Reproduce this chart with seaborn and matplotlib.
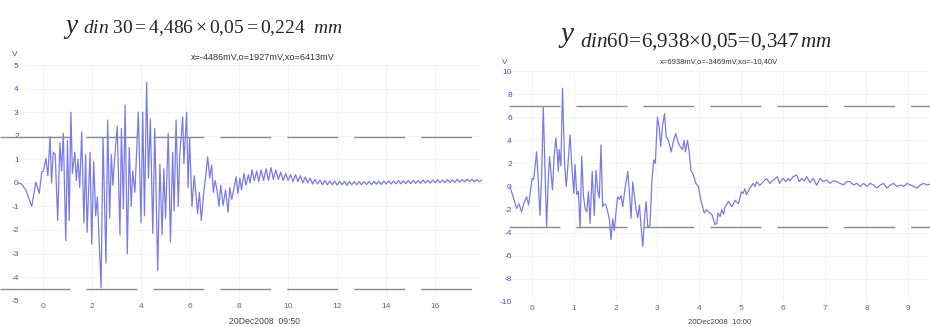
import matplotlib
matplotlib.use("Agg")
import matplotlib.pyplot as plt
import seaborn as sns

# ------------------------------------------------------------
# Data
# ------------------------------------------------------------

# left trace (time in s, signal in V)
left_t = [
    -1.02, -0.88, -0.70, -0.46, -0.29, -0.15, -0.05, 0.02, 0.12, 0.20,
    0.29, 0.35, 0.42, 0.50, 0.60, 0.69, 0.76, 0.83, 0.93, 1.00,
    1.07, 1.14, 1.20, 1.30, 1.36, 1.43, 1.50, 1.58, 1.67, 1.74,
    1.80, 1.92, 1.99, 2.07, 2.15, 2.22, 2.37, 2.45, 2.57, 2.64,
    2.72, 2.79, 2.85, 2.92, 3.03, 3.14, 3.20, 3.28, 3.35, 3.44,
    3.52, 3.60, 3.66, 3.75, 3.89, 4.00, 4.07, 4.14, 4.23, 4.30,
    4.38, 4.48, 4.56, 4.68, 4.77, 4.86, 4.93, 5.00, 5.11, 5.20,
    5.29, 5.35, 5.43, 5.52, 5.58, 5.70, 5.75, 5.86, 5.92, 5.98,
    6.08, 6.17, 6.31, 6.38, 6.46, 6.55, 6.64, 6.72, 6.80, 6.88,
    6.95, 7.02, 7.10, 7.18, 7.25, 7.35, 7.45, 7.55, 7.62, 7.70,
    7.78, 7.88, 7.95, 8.03, 8.10, 8.20, 8.28, 8.38, 8.45, 8.53,
    8.62, 8.72, 8.80, 8.90, 9.00, 9.10, 9.20, 9.30, 9.40, 9.50,
    9.60, 9.70, 9.80, 9.90, 10.0, 10.1, 10.2, 10.3, 10.4, 10.5,
    10.6, 10.7, 10.8, 10.9, 11.0, 11.1, 11.2, 11.3, 11.4, 11.5,
    11.6, 11.7, 11.8, 11.9, 12.0, 12.1, 12.2, 12.3, 12.4, 12.5,
    12.6, 12.7, 12.8, 12.9, 13.0, 13.1, 13.2, 13.3, 13.4, 13.5,
    13.6, 13.7, 13.8, 13.9, 14.0, 14.1, 14.2, 14.3, 14.4, 14.5,
    14.6, 14.7, 14.8, 14.9, 15.0, 15.1, 15.2, 15.3, 15.4, 15.5,
    15.6, 15.7, 15.8, 15.9, 16.0, 16.1, 16.2, 16.3, 16.4, 16.5,
    16.6, 16.7, 16.8, 16.9, 17.0, 17.1, 17.2, 17.3, 17.4, 17.5,
    17.6, 17.7, 17.8, 17.9,
]
left_v = [
    0.00, -0.05, -0.30, -1.00, 0.03, -0.45, 0.46, 0.50, 1.04, 0.30,
    1.95, 0.00, 1.30, 1.20, -1.60, 1.70, 0.50, 2.10, -2.45, 1.80,
    -1.60, 3.00, 0.40, 1.30, 0.10, 1.00, -0.20, 2.16, -1.70, 1.20,
    -2.10, 1.30, -2.60, 0.90, -1.40, -0.60, -4.45, 1.90, -3.40, 2.66,
    -1.50, 1.20, -0.10, 1.00, 2.40, -2.20, 2.30, -1.10, 3.30, -3.00,
    1.50, -1.00, 0.50, -0.40, 3.00, -1.70, 3.00, -1.40, 4.26, 0.20,
    2.70, -2.15, 2.30, -3.72, 0.80, -2.20, 0.60, -1.50, 2.10, -2.50,
    1.30, -1.20, 2.66, -1.00, 1.20, 2.80, 0.80, 3.00, -0.20, 1.90,
    -1.00, 0.30, -1.30, -0.40, -1.60, -0.50, 0.30, 1.10, 0.20, 0.75,
    -0.40, 0.10, -0.30, -1.00, -0.10, -0.95, -0.30, -1.25, -0.20, -0.70,
    -0.30, 0.26, -0.45, 0.20, -0.30, 0.40, -0.10, 0.35, 0.00, 0.55,
    0.10, 0.50, 0.05, 0.55, 0.10, 0.60, 0.10, 0.65, 0.15, 0.55,
    0.15, 0.45, 0.10, 0.40, 0.10, 0.35, 0.05, 0.35, 0.05, 0.30,
    0.00, 0.25, 0.00, 0.20, -0.05, 0.15, -0.05, 0.12, -0.08, 0.10,
    -0.08, 0.08, -0.08, 0.08, -0.10, 0.07, -0.08, 0.06, -0.10, 0.05,
    -0.08, 0.06, -0.08, 0.05, -0.08, 0.06, -0.07, 0.06, -0.08, 0.07,
    -0.06, 0.07, -0.07, 0.08, -0.05, 0.09, -0.05, 0.08, -0.04, 0.10,
    -0.04, 0.09, -0.03, 0.10, -0.03, 0.11, -0.02, 0.10, -0.02, 0.12,
    0.00, 0.11, -0.01, 0.12, 0.00, 0.13, 0.01, 0.12, 0.01, 0.14,
    0.02, 0.13, 0.02, 0.15, 0.03, 0.14, 0.04, 0.16, 0.05, 0.15,
    0.04, 0.14, 0.05, 0.12,
]

# right trace
right_t = [
    -0.53, -0.45, -0.37, -0.31, -0.25, -0.19, -0.13, -0.08, 0.00, 0.04,
    0.11, 0.15, 0.19, 0.23, 0.27, 0.31, 0.35, 0.39, 0.42, 0.46,
    0.49, 0.53, 0.57, 0.61, 0.63, 0.65, 0.69, 0.73, 0.78, 0.82,
    0.86, 0.91, 0.95, 1.00, 1.03, 1.07, 1.11, 1.15, 1.19, 1.23,
    1.27, 1.31, 1.35, 1.39, 1.44, 1.49, 1.53, 1.57, 1.61, 1.65,
    1.69, 1.73, 1.77, 1.81, 1.85, 1.89, 1.93, 1.97, 2.01, 2.05,
    2.09, 2.13, 2.17, 2.22, 2.29, 2.33, 2.37, 2.41, 2.45, 2.49,
    2.53, 2.57, 2.61, 2.65, 2.69, 2.73, 2.77, 2.82, 2.87, 2.91,
    2.95, 3.00, 3.04, 3.08, 3.12, 3.17, 3.21, 3.25, 3.29, 3.33,
    3.38, 3.44, 3.48, 3.52, 3.56, 3.60, 3.64, 3.67, 3.72, 3.76,
    3.80, 3.86, 3.92, 3.98, 4.04, 4.12, 4.18, 4.22, 4.30, 4.38,
    4.42, 4.45, 4.50, 4.54, 4.58, 4.62, 4.70, 4.78, 4.86, 4.94,
    5.01, 5.05, 5.09, 5.13, 5.21, 5.29, 5.33, 5.37, 5.45, 5.53,
    5.61, 5.69, 5.77, 5.87, 5.92, 5.97, 6.01, 6.07, 6.13, 6.17,
    6.25, 6.33, 6.39, 6.45, 6.51, 6.57, 6.65, 6.73, 6.81, 6.89,
    6.97, 7.05, 7.13, 7.21, 7.29, 7.37, 7.45, 7.53, 7.61, 7.69,
    7.77, 7.85, 7.93, 8.01, 8.09, 8.17, 8.25, 8.33, 8.41, 8.49,
    8.57, 8.65, 8.73, 8.81, 8.89, 8.97, 9.05, 9.13, 9.21, 9.29,
    9.37, 9.45, 9.52,
]
right_v = [
    0.00, -0.90, -1.90, -1.50, -2.20, -1.40, -0.90, -1.60, 0.70, 0.60,
    3.00, 0.50, -2.50, 0.80, 6.90, 1.50, -3.50, 0.60, 2.60, 1.00,
    -0.30, 2.60, 4.20, 2.60, 1.30, 3.20, 1.80, 8.50, 1.90, 0.00,
    1.90, 4.46, 1.90, -0.60, 1.90, -0.70, -0.40, -3.60, 2.60, -0.80,
    -1.90, -2.20, -0.45, -3.20, 1.30, -2.50, 1.40, -0.30, -1.00, 3.60,
    -1.75, -1.50, -1.60, -2.20, -2.80, -4.60, -2.80, -3.80, -2.20, -0.90,
    -1.10, -0.80, -1.75, -0.30, 1.30, -0.50, -2.75, 0.40, -0.80, -2.00,
    -2.70, -1.60, -3.50, -5.20, -2.80, -1.30, -3.50, -3.40, 0.56, 2.30,
    2.00, 6.00, 5.20, 3.45, 5.20, 6.30, 4.30, 4.10, 3.60, 3.00,
    3.90, 4.60, 4.00, 3.60, 3.40, 3.20, 4.00, 3.00, 4.00, 3.00,
    1.40, 1.00, 0.27, 0.00, -1.20, -2.30, -2.00, -2.20, -2.40, -3.30,
    -3.20, -2.30, -2.60, -2.00, -2.40, -1.75, -1.30, -1.75, -1.20, -1.50,
    -0.45, -0.60, -0.20, -0.70, -0.15, 0.27, 0.00, 0.40, 0.10, 0.40,
    0.70, 0.27, 0.56, 0.85, 0.27, 0.56, 0.70, 0.42, 0.70, 0.50,
    0.85, 1.00, 0.42, 0.70, 0.48, 0.85, 0.35, 0.70, 0.10, 0.70,
    0.42, 0.56, 0.27, 0.50, 0.42, 0.27, 0.13, 0.42, 0.42, 0.13,
    0.27, 0.00, 0.27, 0.00, 0.27, 0.13, -0.14, 0.13, 0.27, -0.14,
    0.13, 0.27, 0.00, 0.13, 0.00, 0.27, 0.13, 0.00, -0.14, 0.13,
    0.27, 0.13, 0.20,
]

# reference levels (x and o readouts)
left_levels = [1.927, -4.486]
right_levels = [6.938, -3.469]

left_xticks = [0, 2, 4, 6, 8, 10, 12, 14, 16]
left_yticks = [-5, -4, -3, -2, -1, 0, 1, 2, 3, 4, 5]
right_xticks = [0, 1, 2, 3, 4, 5, 6, 7, 8, 9]
right_yticks = [-10, -8, -6, -4, -2, 0, 2, 4, 6, 8, 10]

left_stats = "x=-4486mV,o=1927mV,xo=6413mV"
right_stats = "x=6938mV,o=-3469mV,xo=-10,40V"
left_stamp = "20Dec2008  09:50"
right_stamp = "20Dec2008  10:00"

# ------------------------------------------------------------
# Style
# ------------------------------------------------------------
sns.set_style("white")
plt.rcParams["font.family"] = ["Liberation Sans", "DejaVu Sans"]
plt.rcParams["mathtext.fontset"] = "custom"
plt.rcParams["mathtext.rm"] = "Liberation Serif"
plt.rcParams["mathtext.it"] = "Liberation Serif:italic"
plt.rcParams["lines.scale_dashes"] = False
plt.rcParams["axes.unicode_minus"] = False

trace_color = "#7a7ae8"
ytick_color = "#4b4bd2"
xtick_color = "#6a6a6a"
level_color = "#8a8a8a"
dash = (0, (36.7, 11.5))

fig = plt.figure(figsize=(9.3, 3.27), dpi=100)
W, H = 930, 327


def px_axes(x0, x1, y_top, y_bot):
    return fig.add_axes([x0 / W, 1 - y_bot / H, (x1 - x0) / W, (y_bot - y_top) / H])


def style_axes(ax, xticks, yticks):
    sns.despine(ax=ax, left=True, bottom=True)
    ax.set_xticks(xticks)
    ax.set_yticks(yticks)
    ax.tick_params(axis="both", length=0, labelsize=6)
    ax.tick_params(axis="x", colors=xtick_color, pad=2)
    ax.tick_params(axis="y", colors=ytick_color, pad=-2)
    ax.grid(True, color="#f3f3f3", lw=0.6)
    ax.set_xlabel("")
    ax.set_ylabel("")


# ------------------------------------------------------------
# Left oscillogram
# ------------------------------------------------------------
ax1 = px_axes(16, 483, 65, 300.7)
sns.lineplot(x=left_t, y=left_v, ax=ax1, color=trace_color, lw=0.9,
             sort=False, estimator=None)
ax1.set_xlim(-1.1, 17.95)
ax1.set_ylim(-5, 5)
# first level segment is longer, then regular dashes
for lv in left_levels:
    ax1.hlines(lv, -1.755, -0.98, colors=level_color, lw=1.0, clip_on=False)
    ax1.hlines(lv, -0.98, 17.95, colors=level_color, lw=1.0,
               linestyles=[dash], clip_on=False)
style_axes(ax1, left_xticks, left_yticks)

# ------------------------------------------------------------
# Right oscillogram
# ------------------------------------------------------------
ax2 = px_axes(509, 930, 71, 302)
sns.lineplot(x=right_t, y=right_v, ax=ax2, color=trace_color, lw=0.9,
             sort=False, estimator=None)
ax2.set_xlim(-0.55, 9.52)
ax2.set_ylim(-10, 10)
for lv in right_levels:
    ax2.hlines(lv, -0.55, 9.52, colors=level_color, lw=1.0,
               linestyles=[dash], clip_on=False)
style_axes(ax2, right_xticks, right_yticks)

# ------------------------------------------------------------
# Texts
# ------------------------------------------------------------
serif = "Liberation Serif"
fig.text(65 / W, 1 - 33 / H, "y", family=serif, style="italic", fontsize=19.5,
         ha="left", va="baseline")
fig.text(83 / W, 1 - 33 / H,
         r"$\mathit{din}\ 30=4{,}486\times0{,}05=0{,}224\ \ \mathit{mm}$",
         fontsize=14, ha="left", va="baseline")
fig.text(560 / W, 1 - 42 / H, "y", family=serif, style="italic", fontsize=21,
         ha="left", va="baseline")
fig.text(580 / W, 1 - 47 / H,
         r"$\mathit{din}60\!=\!6{,}938{\times}0{,}05\!=\!0{,}347\,\mathit{mm}$",
         fontsize=15.2, ha="left", va="baseline")

fig.text(263 / W, 1 - 57 / H, left_stats, fontsize=6.6, color="#333333",
         ha="center", va="center")
fig.text(719 / W, 1 - 62 / H, right_stats, fontsize=5.5, color="#333333",
         ha="center", va="center")

fig.text(15 / W, 1 - 55 / H, "V", fontsize=6, color=ytick_color,
         ha="center", va="center")
fig.text(505 / W, 1 - 63 / H, "V", fontsize=6, color=ytick_color,
         ha="center", va="center")

fig.text(264 / W, 1 - 322 / H, left_stamp, fontsize=6.2, color="#444444",
         ha="center", va="center")
fig.text(720 / W, 1 - 322 / H, right_stamp, fontsize=5.6, color="#444444",
         ha="center", va="center")

fig.savefig("out.png", dpi=100)
